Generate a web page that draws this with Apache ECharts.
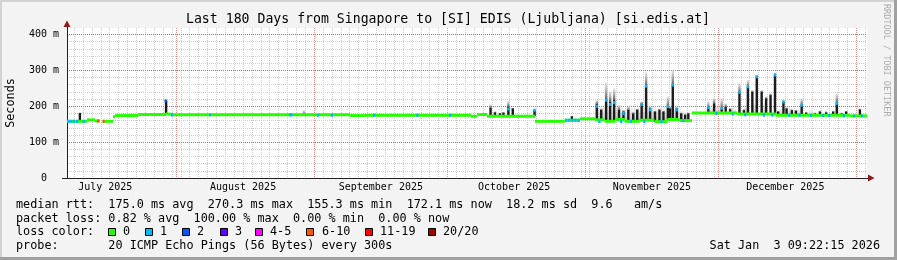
<!DOCTYPE html>
<html><head><meta charset="utf-8">
<script src="https://cdn.jsdelivr.net/npm/echarts@6/dist/echarts.min.js"></script>
<style>html,body{margin:0;padding:0;background:#f3f3f3}#c{width:897px;height:260px}</style>
</head><body><div id="c"></div>
<script>
// ---- axis / tick data (days since start of the 180-day window) ----
const monthLineDays = [24.61, 55.61, 85.61, 116.61, 146.61, 177.61];
const monthLabelDays = [8.61, 39.61, 70.61, 100.61, 131.61, 161.61];
const monthLabels = ['July 2025', 'August 2025', 'September 2025', 'October 2025', 'November 2025', 'December 2025'];
const yTicks = [0, 100, 200, 300, 400];

// ---- median rtt (ms) as steps: value holds from day[i] to day[i+1] ----
const medianDays = [0, 4.5, 6.3, 7.4, 8.1, 10.35, 10.8, 16.0, 22.3, 22.7, 23.4, 63.7, 67.0, 90.9, 92.3, 94.5, 105.3, 112.0, 115.4, 118.8, 121.0, 123.3, 125.5, 128.8, 132.2, 135.1, 137.8, 140.6, 150.8, 159.5, 176.2, 180];
const medianMs   = [158, 162, 159, null, 158, 171, 174, 177, 179, 178, 176, 174, 175, 172, 177, 172, 158, 161, 165, 162, 158, 163, 158, 161, 157, 163, 160, 181, 178, 175, 173, 173];

// ---- smoke spikes: day, top of dark part (ms), top of light part (ms) ----
const spikeDays  = [2.9, 22.3, 53.3, 95.3, 96.3, 97.4, 98.2, 99.3, 100.3, 105.2, 113.6,
  119.2, 120.2, 121.3, 122.2, 123.1, 124.2, 125.2, 126.3, 127.4, 128.3, 129.3, 130.3, 131.2, 132.3, 133.3, 134.2, 135.2, 135.7, 136.3, 137.2, 138.2, 139.1, 139.8,
  144.3, 145.6, 147.3, 148.2, 149.2, 151.3, 152.3, 153.2, 154.2, 155.2, 156.3, 157.3, 158.3, 159.3, 160.0, 161.2, 161.9, 163.1, 164.0, 165.3, 166.3, 168.3, 169.4, 170.8, 172.4, 173.2, 174.3, 175.3, 178.4];
const spikeDark  = [181, 215, 176, 196, 183, 180, 182, 198, 194, 189, 172,
  206, 190, 217, 213, 217, 190, 185, 190, 180, 190, 208, 256, 194, 185, 190, 185, 199, 194, 259, 194, 180, 176, 180,
  196, 208, 194, 198, 192, 239, 189, 254, 240, 282, 240, 222, 231, 287, 185, 212, 194, 189, 187, 203, 182, 180, 185, 183, 185, 208, 180, 185, 191];
const spikeLight = [183, 218, 189, 205, 186, 182, 184, 215, 196, 191, 174,
  217, 194, 266, 241, 250, 203, 190, 199, 184, 194, 213, 295, 199, 188, 193, 188, 227, 198, 301, 198, 183, 179, 183,
  213, 222, 222, 208, 195, 264, 192, 273, 245, 287, 245, 227, 236, 294, 188, 217, 197, 192, 190, 222, 185, 183, 188, 186, 188, 236, 183, 188, 194];

// ---- faint smoke haze between spikes: day, top (ms) ----
const hazeDays = [119.7, 120.7, 121.8, 122.7, 123.6, 124.7, 125.7, 126.8, 127.9, 128.8, 129.8, 130.8, 131.7, 132.8, 133.8, 134.7, 136.8, 137.7, 138.7,
  145.0, 146.4, 150.0, 152.8, 154.7, 156.8, 160.6, 162.5, 164.6, 167.3];
const hazeMs   = [200, 205, 210, 212, 204, 200, 196, 205, 195, 200, 206, 210, 203, 196, 198, 205, 208, 196, 188,
  200, 205, 195, 205, 210, 212, 196, 198, 195, 190];

// ---- median points with packet loss: day, ms, loss class index ----
const lossDays  = [0.3, 0.8, 1.5, 2.3, 3.8, 7.0, 8.2, 22.2, 23.6, 32.2, 50.2, 50.5, 56.5, 59.6, 69.1, 78.8, 86.2, 99.3, 105.2,
  112.3, 113.0, 113.7, 114.4, 115.1,
  119.2, 119.8, 121.3, 122.2, 123.1, 124.7, 125.2, 126.9, 129.3, 129.9, 130.3, 131.2, 133.8, 135.2, 136.3, 137.2, 138.6,
  144.3, 146.1, 147.3, 149.8, 151.3, 152.6, 153.2, 155.2, 156.8, 158.7, 159.3, 161.2, 162.5, 164.8, 165.3, 167.4, 170.1, 171.5, 173.2, 174.8, 177.1, 178.9];
const lossMs    = [158, 158, 158, 158, 158, 159, 158, 215, 176, 176, 176, 176, 175, 175, 175, 175, 175, 192, 189,
  161, 161, 161, 161, 161,
  200, 157, 217, 205, 210, 157, 180, 158, 205, 157, 256, 190, 157, 199, 259, 190, 160,
  196, 180, 194, 178, 239, 176, 254, 282, 175, 175, 287, 212, 175, 175, 203, 174, 174, 174, 208, 173, 173, 173];
const lossLevel = [1, 1, 1, 1, 1, 5, 5, 2, 1, 1, 1, 1, 1, 1, 1, 1, 1, 1, 1,
  1, 1, 1, 1, 1,
  1, 1, 1, 1, 1, 1, 1, 1, 1, 1, 1, 1, 1, 1, 1, 1, 1,
  1, 1, 1, 1, 1, 1, 1, 1, 1, 1, 1, 1, 1, 1, 1, 1, 1, 1, 1, 1, 1, 1];

const lossColors = ['#26ff00', '#00b8ff', '#0059ff', '#5e00ff', '#ff00ff', '#ff5500', '#ff0000', '#a10000'];
const lossNames  = ['0', '1', '2', '3', '4-5', '6-10', '11-19', '20/20'];

// ---- helpers ----
function medianAt(d) {
  let v = medianMs[0];
  for (let i = 0; i < medianDays.length; i++) {
    if (medianDays[i] <= d && medianMs[i] != null) v = medianMs[i];
    if (medianDays[i] > d) break;
  }
  return v;
}
const minorX = [];
for (let d = 1.61; d < 180; d += 2) {
  if (!monthLineDays.some(m => Math.abs(m - d) < 0.5)) minorX.push(+d.toFixed(2));
}
const minorY = [];
for (let v = 20; v < 418; v += 20) if (v % 100 !== 0) minorY.push(v);

const FONT = 'DejaVu Sans Mono';
const chart = echarts.init(document.getElementById('c'), null, {renderer: 'canvas'});

const medianData = [];
for (let i = 0; i < medianDays.length - 1; i++) {
  if (medianMs[i] != null) medianData.push([medianDays[i], medianDays[i + 1], medianMs[i]]);
}
const spikeData = spikeDays.map((d, i) => [d, spikeDark[i], spikeLight[i]]);
const hazeData = hazeDays.map((d, i) => [d, hazeMs[i]]);
const lossData = lossDays.map((d, i) => [d, lossMs[i], lossLevel[i]]);

const MAJOR = {color: '#e26f6f', type: [1, 1], width: 1, opacity: 0.75};
const grid = {left: 67, top: 28, width: 800, height: 150, show: true, backgroundColor: '#ffffff', borderWidth: 0};
const gridLineMinor = {show: true, lineStyle: {color: '#cdcdcd', type: [1, 1], width: 1}};
const gridLineMajorX = {show: true, lineStyle: MAJOR};

const legendGraphics = [];
const boxX = [108, 145, 182, 220, 255, 306, 365, 428];
const labX = [123, 160, 197, 235, 270, 322, 380, 443];
lossNames.forEach((n, i) => {
  legendGraphics.push({type: 'rect', shape: {x: boxX[i] + 0.5, y: 228.5, width: 7, height: 7},
    style: {fill: lossColors[i], stroke: '#000', lineWidth: 1}});
  legendGraphics.push({type: 'text', x: labX[i], y: 232,
    style: {text: n, font: '11.8px ' + FONT, fill: '#000', textVerticalAlign: 'middle'}});
});

const txt = (x, y, s, extra) => Object.assign({type: 'text', x: x, y: y,
  style: Object.assign({text: s, font: '11.8px ' + FONT, fill: '#000', textVerticalAlign: 'middle'}, extra || {})});

chart.setOption({
  animation: false,
  backgroundColor: '#f3f3f3',
  grid: grid,
  xAxis: [
    {type: 'value', min: 0, max: 180, gridIndex: 0, z: 2,
     axisLine: {show: true, onZero: false, lineStyle: {color: '#202020', width: 1}},
     axisTick: {show: false, customValues: monthLineDays},
     splitLine: gridLineMajorX,
     axisLabel: {customValues: monthLabelDays, margin: 4, fontFamily: FONT, fontSize: 10, color: '#000',
       formatter: v => { const i = monthLabelDays.findIndex(m => Math.abs(m - v) < 0.01); return i >= 0 ? monthLabels[i] : ''; }}},
    {type: 'value', min: 0, max: 180, gridIndex: 0, show: true, z: 1,
     axisLine: {show: false}, axisLabel: {show: false},
     axisTick: {show: false, customValues: minorX}, splitLine: gridLineMinor}
  ],
  yAxis: [
    {type: 'value', min: 0, max: 418, interval: 100, gridIndex: 0, z: 2, position: 'left',
     axisLine: {show: true, onZero: false, lineStyle: {color: '#202020', width: 1}},
     axisTick: {show: false},
     splitLine: {show: true, showMinLine: false, showMaxLine: false,
       lineStyle: {color: '#e05a5a', type: [1, 1], width: 1}},
     axisLabel: {showMaxLabel: false, margin: 8, fontFamily: FONT, fontSize: 10, color: '#000',
       formatter: v => v === 0 ? '0  ' : (v % 100 === 0 ? v + ' m' : '')}},
    {type: 'value', min: 0, max: 418, gridIndex: 0, show: true, z: 1, position: 'left',
     axisLine: {show: false}, axisLabel: {show: false},
     axisTick: {show: false, customValues: minorY}, splitLine: gridLineMinor}
  ],
  series: [
    {type: 'custom', name: 'major grid', xAxisIndex: 0, yAxisIndex: 0, data: yTicks.slice(1).map(v => [v]), z: 2, silent: true,
     renderItem: (params, api) => {
       const v = api.value(0);
       const p0 = api.coord([0, v]);
       const p1 = api.coord([180, v]);
       const y = Math.round(p0[1]) + 0.5;
       return {type: 'line', shape: {x1: p0[0], y1: y, x2: p1[0], y2: y},
         style: {stroke: '#e05a5a', lineWidth: 1, lineDash: [1, 1], opacity: 0.85}};
     }},
    {type: 'custom', name: 'haze', xAxisIndex: 0, yAxisIndex: 0, data: hazeData, clip: true, z: 3,
     renderItem: (params, api) => {
       const d = api.value(0);
       const base = api.coord([d, medianAt(d)]);
       const top = api.coord([d, api.value(1)]);
       const w = api.size([1, 0])[0];
       return {type: 'rect', shape: {x: base[0] - w / 2, y: top[1], width: w, height: Math.max(0, base[1] - top[1])},
         style: {fill: new echarts.graphic.LinearGradient(0, 0, 0, 1, [
           {offset: 0, color: 'rgba(200,200,200,0.15)'}, {offset: 1, color: 'rgba(150,150,150,0.55)'}])}};
     }},
    {type: 'custom', name: 'smoke', xAxisIndex: 0, yAxisIndex: 0, data: spikeData, clip: true, z: 4,
     renderItem: (params, api) => {
       const d = api.value(0);
       const base = api.coord([d, medianAt(d)]);
       const pd = api.coord([d, api.value(1)]);
       const pl = api.coord([d, api.value(2)]);
       const w = 2.4;
       return {type: 'group', children: [
         {type: 'rect', shape: {x: base[0] - w / 2, y: pl[1], width: w, height: Math.max(0, pd[1] - pl[1])},
          style: {fill: new echarts.graphic.LinearGradient(0, 0, 0, 1, [
            {offset: 0, color: 'rgba(200,200,200,0.5)'}, {offset: 1, color: 'rgba(80,80,80,0.95)'}])}},
         {type: 'rect', shape: {x: base[0] - w / 2, y: pd[1], width: w, height: Math.max(0, base[1] - pd[1])},
          style: {fill: '#1c1c1c'}}
       ]};
     }},
    {type: 'custom', name: 'median', xAxisIndex: 0, yAxisIndex: 0, data: medianData, clip: true, z: 5,
     renderItem: (params, api) => {
       const p0 = api.coord([api.value(0), api.value(2)]);
       const p1 = api.coord([api.value(1), api.value(2)]);
       return {type: 'rect', shape: {x: p0[0], y: p0[1] - 1.5, width: p1[0] - p0[0], height: 3},
         style: {fill: lossColors[0]}};
     }},
    {type: 'custom', name: 'loss', xAxisIndex: 0, yAxisIndex: 0, data: lossData, clip: true, z: 6,
     renderItem: (params, api) => {
       const p = api.coord([api.value(0), api.value(1)]);
       const w = api.size([0.5, 0])[0];
       return {type: 'rect', shape: {x: p[0] - w / 2, y: p[1] - 1.5, width: w, height: 3},
         style: {fill: lossColors[api.value(2)]}};
     }}
  ],
  graphic: [
    // frame
    {type: 'rect', shape: {x: 0, y: 0, width: 897, height: 2}, style: {fill: '#d2d2d2'}, silent: true},
    {type: 'rect', shape: {x: 0, y: 0, width: 2, height: 260}, style: {fill: '#d2d2d2'}, silent: true},
    {type: 'rect', shape: {x: 0, y: 257, width: 897, height: 3}, style: {fill: '#a0a0a0'}, silent: true},
    {type: 'rect', shape: {x: 894, y: 0, width: 3, height: 260}, style: {fill: '#a0a0a0'}, silent: true},
    // axis arrows and overhangs
    {type: 'polygon', shape: {points: [[67, 20.5], [63.5, 27], [70.5, 27]]}, style: {fill: '#8f1a1a'}, z: 10},
    {type: 'polygon', shape: {points: [[874.5, 178], [868, 174.5], [868, 181.5]]}, style: {fill: '#8f1a1a'}, z: 10},
    {type: 'line', shape: {x1: 862, y1: 178.5, x2: 868, y2: 178.5}, style: {stroke: '#202020', lineWidth: 1}},
    {type: 'line', shape: {x1: 62, y1: 178.5, x2: 67, y2: 178.5}, style: {stroke: '#202020', lineWidth: 1}},
    {type: 'line', shape: {x1: 67.5, y1: 27, x2: 67.5, y2: 28}, style: {stroke: '#202020', lineWidth: 1}},
    // title
    {type: 'text', x: 448, y: 20, style: {text: 'Last 180 Days from Singapore to [SI] EDIS (Ljubljana) [si.edis.at]',
      font: '13.2px ' + FONT, fill: '#000', textAlign: 'center', textVerticalAlign: 'middle'}},
    // y axis title
    {type: 'text', x: 11, y: 103, rotation: Math.PI / 2,
     style: {text: 'Seconds', font: '11.8px ' + FONT, fill: '#000', textAlign: 'center', textVerticalAlign: 'middle'}},
    // watermark
    {type: 'text', x: 886, y: 4, rotation: -Math.PI / 2,
     style: {text: 'RRDTOOL / TOBI OETIKER', font: '8.5px ' + FONT, fill: '#acacac', textAlign: 'left', textVerticalAlign: 'middle'}},
    // legend rows
    txt(16, 204.5, 'median rtt:  175.0 ms avg  270.3 ms max  155.3 ms min  172.1 ms now  18.2 ms sd  9.6   am/s'),
    txt(16, 218.5, 'packet loss: 0.82 % avg  100.00 % max  0.00 % min  0.00 % now'),
    txt(16, 232, 'loss color:'),
    txt(16, 246, 'probe:       20 ICMP Echo Pings (56 Bytes) every 300s'),
    txt(880, 246, 'Sat Jan  3 09:22:15 2026', {textAlign: 'right'})
  ].concat(legendGraphics)
});
</script></body></html>
